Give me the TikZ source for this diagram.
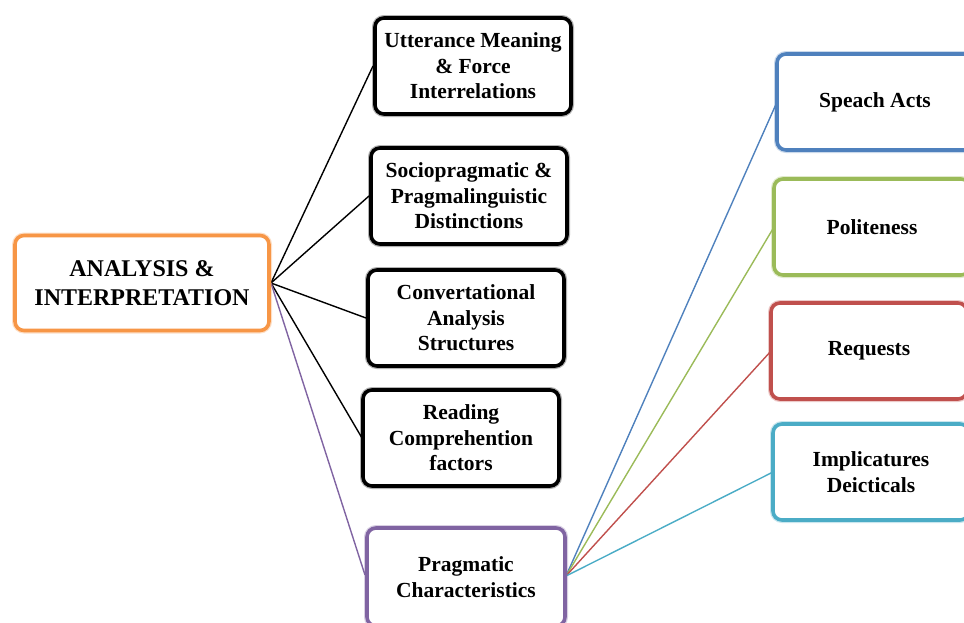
\documentclass[tikz,border=0pt]{standalone}
\usepackage{fontspec}
\setmainfont{Liberation Serif}
\definecolor{cOrange}{HTML}{F79646}
\definecolor{cPurple}{HTML}{8064A2}
\definecolor{cBlue}{HTML}{4F81BD}
\definecolor{cGreen}{HTML}{9BBB59}
\definecolor{cRed}{HTML}{C0504D}
\definecolor{cTeal}{HTML}{4BACC6}
\tikzset{
  box/.style={draw=#1, line width=3.6pt, rounded corners=9pt, fill=white,
    align=center, inner sep=2pt, font=\bfseries\fontsize{21.5}{25.5}\selectfont,
    text=black, minimum width=196pt, minimum height=96pt,
    preaction={draw=#1, draw opacity=0.3, line width=6pt}},
  bigbox/.style={box=cOrange, minimum width=254pt, minimum height=95pt,
    font=\bfseries\fontsize{24}{29}\selectfont},
  link/.style={line width=1.4pt, draw=#1}
}
\begin{document}
\begin{tikzpicture}[x=1pt,y=-1pt]
\useasboundingbox (0,0) rectangle (964,622);
\clip (0,0) rectangle (964,622);
% connectors first, boxes drawn on top
\coordinate (aE) at (271,283);
\coordinate (pE) at (566,576);
\draw[link=black] (aE) -- (373,66);
\draw[link=black] (aE) -- (369,196);
\draw[link=black] (aE) -- (366,318);
\draw[link=black] (aE) -- (362,438);
\draw[link=cPurple] (aE) -- (365,575);
\draw[link=cBlue] (pE) -- (777,102);
\draw[link=cGreen] (pE) -- (774,227);
\draw[link=cRed] (pE) -- (771,351);
\draw[link=cTeal] (pE) -- (773,472);
% central box
\node[bigbox] (ana) at (142,283) {ANALYSIS \&\\INTERPRETATION};
% left column
\node[box=black] (utt) at (473,66) {Utterance Meaning\\\& Force\\Interrelations};
\node[box=black] (soc) at (469,196) {Sociopragmatic \&\\Pragmalinguistic\\Distinctions};
\node[box=black] (con) at (466,318) {Convertational\\Analysis\\Structures};
\node[box=black] (rea) at (461,438) {Reading\\Comprehention\\factors};
\node[box=cPurple, minimum width=198pt, minimum height=98pt] (pra) at (466,577) {Pragmatic\\Characteristics};
% right column
\node[box=cBlue] (spe) at (875,102) {Speach Acts};
\node[box=cGreen] (pol) at (872,227) {Politeness};
\node[box=cRed] (req) at (869,351) {Requests};
\node[box=cTeal] (imp) at (871,472) {Implicatures\\Deicticals};
\end{tikzpicture}
\end{document}
